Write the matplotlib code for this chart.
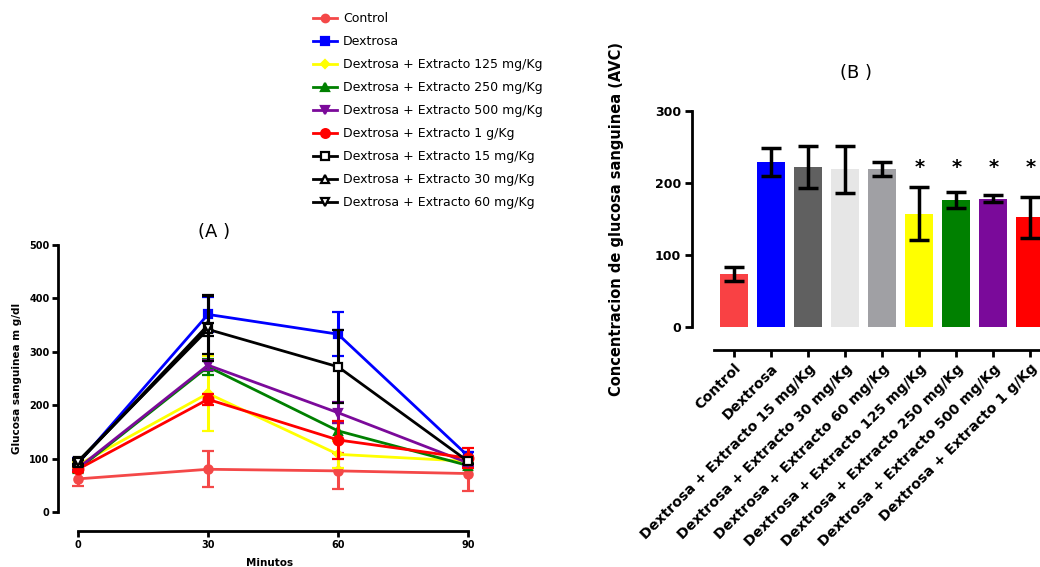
import numpy as np
import matplotlib
matplotlib.use('Agg')
import matplotlib.pyplot as plt

plt.rcParams['font.family'] = ['DejaVu Sans']

# Panel A: glucosa vs tiempo
minutos = [0, 30, 60, 90]
nan = np.nan
series = ['Control', 'Dextrosa', 'Dextrosa + Extracto 125 mg/Kg', 'Dextrosa + Extracto 250 mg/Kg',
          'Dextrosa + Extracto 500 mg/Kg', 'Dextrosa + Extracto 1 g/Kg', 'Dextrosa + Extracto 15 mg/Kg',
          'Dextrosa + Extracto 30 mg/Kg', 'Dextrosa + Extracto 60 mg/Kg']
control = [62, 80, 77, 72]
control_err = [13, 34, 33, 33]
dextrosa = [91, 370, 333, 105]
dextrosa_err = [10, 33, 41, 8]
ext125 = [88, 222, 108, 95]
ext125_err = [5, 70, 25, 8]
ext250 = [80, 272, 152, 87]
ext250_err = [5, 15, 15, 5]
ext500 = [82, 275, 186, 92]
ext500_err = [5, 10, 20, 5]
ext1g = [80, 211, 135, 101]
ext1g_err = [5, 10, 36, 18]
ext15 = [95, 342, 272, 95]
ext15_err = [5, 12, 68, 5]
ext30 = [92, 350, nan, nan]
ext30_err = [5, 55, nan, nan]
ext60 = [93, 345, nan, nan]
ext60_err = [5, 62, nan, nan]

# Panel B: AVC
grupos = ['Control', 'Dextrosa', 'Dextrosa + Extracto 15 mg/Kg', 'Dextrosa + Extracto 30 mg/Kg',
          'Dextrosa + Extracto 60 mg/Kg', 'Dextrosa + Extracto 125 mg/Kg', 'Dextrosa + Extracto 250 mg/Kg',
          'Dextrosa + Extracto 500 mg/Kg', 'Dextrosa + Extracto 1 g/Kg']
avc = [73, 229, 222, 219, 219, 157, 176, 178, 152]
avc_err = [10, 20, 29, 33, 9.5, 37, 11, 5, 29]
significativo = [False, False, False, False, False, True, True, True, True]

fig = plt.figure(figsize=(10.4, 5.67), dpi=100)

# ---------- (A) ----------
axA = fig.add_axes([58/1040, 55/567, 423/1040, 267/567])
estilos = [
    (control, control_err, '#F44848', 'o', '#F44848', 6),
    (dextrosa, dextrosa_err, '#0000FF', 's', '#0000FF', 6),
    (ext125, ext125_err, '#FFFF00', 'D', '#FFFF00', 4),
    (ext250, ext250_err, '#008000', '^', '#008000', 6),
    (ext500, ext500_err, '#7B0A9A', 'v', '#7B0A9A', 6),
    (ext1g, ext1g_err, '#FF0000', 'o', '#FF0000', 7),
    (ext15, ext15_err, 'black', 's', 'white', 6),
    (ext30, ext30_err, 'black', '^', 'white', 6),
    (ext60, ext60_err, 'black', 'v', 'white', 6),
]
orden = [8, 7, 6, 2, 5, 3, 4, 0, 1]
handles = {}
for i in orden:
    y, e, c, m, fc, ms = estilos[i]
    h = axA.errorbar(minutos, y, yerr=e, color=c, marker=m, markerfacecolor=fc,
                     markeredgecolor=c, markeredgewidth=1.6, markersize=ms, lw=2,
                     elinewidth=2.2, capsize=4, capthick=2.2, clip_on=False, zorder=3 + i * 0.1)
    handles[i] = h[0]
axA.set_xlim(-4.6, 93)
axA.set_ylim(0, 500)
axA.set_yticks([0, 100, 200, 300, 400, 500])
axA.set_xticks(minutos)
for s in ['top', 'right']:
    axA.spines[s].set_visible(False)
axA.spines['left'].set_linewidth(2)
axA.spines['bottom'].set_linewidth(2)
axA.spines['bottom'].set_position(('outward', 14))
axA.spines['bottom'].set_bounds(0, 90)
axA.tick_params(width=2, length=4, labelsize=7, pad=2)
for lab in axA.get_xticklabels() + axA.get_yticklabels():
    lab.set_fontweight('bold')
axA.set_ylabel('Glucosa sanguinea m g/dl', fontsize=7.5, fontweight='bold', labelpad=5)
axA.set_xlabel('Minutos', fontsize=7.5, fontweight='bold', labelpad=6)
axA.set_title('(A )', fontsize=13, pad=6, x=0.37)

leg = fig.legend([handles[i] for i in range(9)], series, loc='upper left',
                 bbox_to_anchor=(302/1040, 1 - 1/567), frameon=False, fontsize=9,
                 handlelength=1.9, handletextpad=0.5, labelspacing=0.8, markerscale=0.9)

# ---------- (B) ----------
axB = fig.add_axes([692/1040, 240.3/567, 348/1040, 215.7/567])
colores = ['#F94144', '#0000FF', '#606060', '#E6E6E6', '#A0A0A4', '#FFFF00', '#008000', '#7A0A9A', '#FF0000']
xpos = np.arange(len(grupos))
axB.bar(xpos, avc, width=0.76, color=colores, zorder=2)
axB.errorbar(xpos, avc, yerr=avc_err, fmt='none', ecolor='black', elinewidth=2.5,
             capsize=7, capthick=2.5, zorder=3, clip_on=False)
for x, v, s in zip(xpos, avc, significativo):
    if s:
        axB.text(x, 221, '*', ha='center', va='center', fontsize=14, fontweight='bold')
axB.set_xlim(-1.14, 8.26)
axB.set_ylim(0, 300)
axB.set_yticks([0, 100, 200, 300])
axB.set_xticks(xpos)
for s in ['top', 'right']:
    axB.spines[s].set_visible(False)
axB.spines['left'].set_linewidth(2)
axB.spines['bottom'].set_linewidth(2)
axB.spines['bottom'].set_position(('outward', 17))
axB.spines['bottom'].set_bounds(-0.54, 8.26)
axB.tick_params(width=2, length=5, labelsize=9, pad=3)
axB.set_xticklabels(grupos, fontsize=10.2, fontweight='bold')
for lab in axB.get_xticklabels():
    lab.set_rotation(45)
    lab.set_ha('right')
    lab.set_rotation_mode('anchor')
for lab in axB.get_yticklabels():
    lab.set_fontweight('bold')
axB.set_ylabel('Concentracion de glucosa sanguinea (AVC)', fontsize=10.5, fontweight='bold', labelpad=22)
axB.set_title('(B )', fontsize=13, pad=24, x=0.47)

fig.savefig('out.png', dpi=100)
